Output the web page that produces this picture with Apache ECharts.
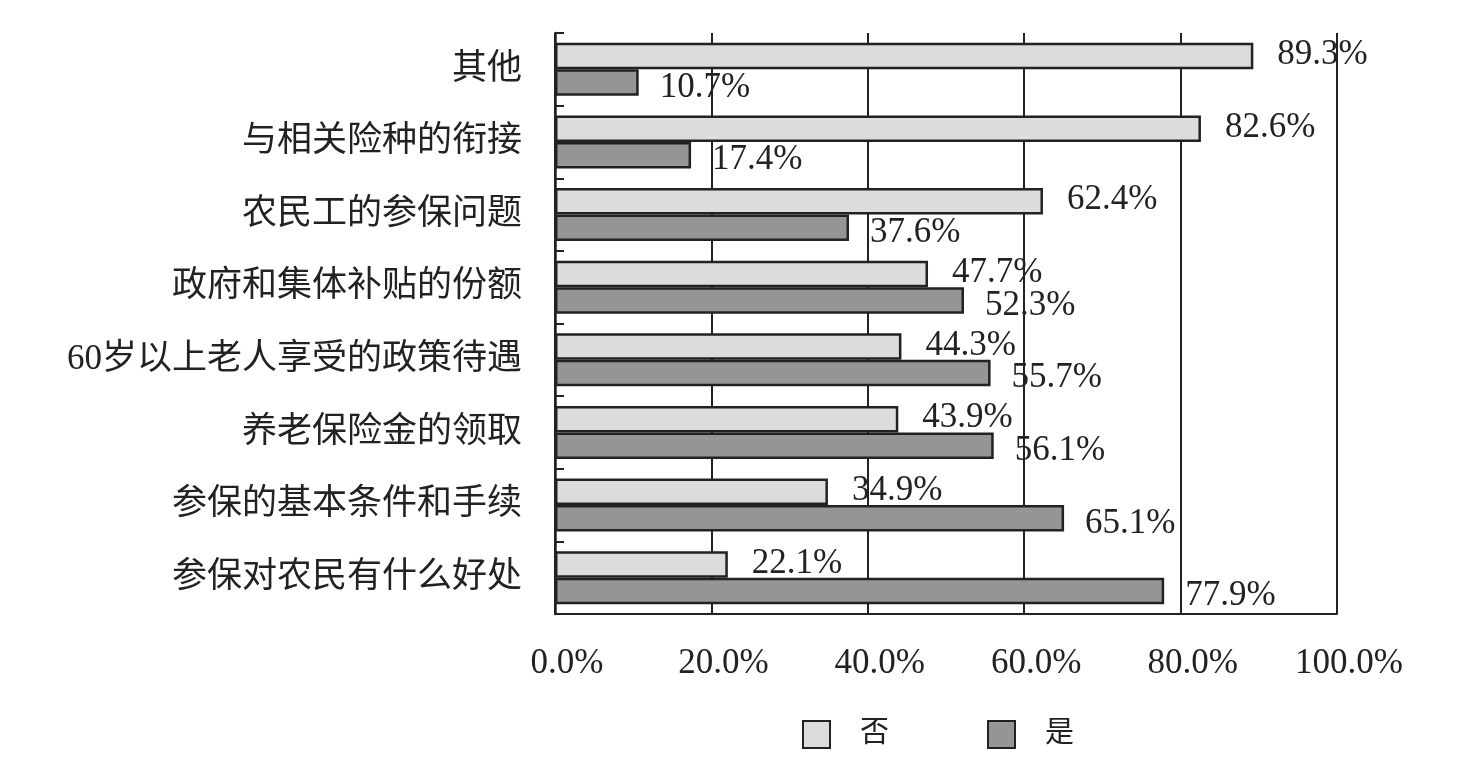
<!DOCTYPE html>
<html>
<head>
<meta charset="utf-8">
<script src="https://cdn.jsdelivr.net/npm/echarts@6/dist/echarts.min.js"></script>
<style>
html,body{margin:0;padding:0;background:#fff;}
#chart{width:1477px;height:771px;}
</style>
</head>
<body>
<div id="chart"></div>
<script>
// Categories, bottom to top
const categories = ['参保对农民有什么好处', '参保的基本条件和手续', '养老保险金的领取', '60岁以上老人享受的政策待遇', '政府和集体补贴的份额', '农民工的参保问题', '与相关险种的衔接', '其他'];
const seriesNames = ['否', '是'];
const noValues = [22.1, 34.9, 43.9, 44.3, 47.7, 62.4, 82.6, 89.3];
const yesValues = [77.9, 65.1, 56.1, 55.7, 52.3, 37.6, 17.4, 10.7];
const xTicks = [0, 20, 40, 60, 80, 100];

const FONT = '"Liberation Serif", "Noto Sans CJK SC", serif';
const chart = echarts.init(document.getElementById('chart'));
chart.setOption({
  backgroundColor: '#fff',
  animation: false,
  textStyle: { fontFamily: FONT },
  grid: { left: 555, right: 140, top: 33, bottom: 157, containLabel: false },
  legend: {
    data: seriesNames,
    left: 797, top: 715,
    icon: 'rect',
    itemWidth: 27, itemHeight: 27,
    itemGap: 98,
    textStyle: { fontFamily: FONT, fontSize: 29, color: '#222', padding: [0, 0, 0, 25] }
  },
  xAxis: {
    type: 'value',
    min: xTicks[0], max: xTicks[xTicks.length - 1], interval: 20,
    axisLine: { show: true, lineStyle: { color: '#222', width: 2 } },
    axisTick: { show: false },
    splitLine: { show: true, lineStyle: { color: '#222', width: 2 } },
    axisLabel: {
      margin: 32, fontSize: 35, color: '#222', fontFamily: FONT,
      padding: [0, 0, 0, 24],
      formatter: v => v.toFixed(1) + '%'
    }
  },
  yAxis: {
    type: 'category',
    data: categories,
    axisLine: { show: true, lineStyle: { color: '#222', width: 2.5 } },
    axisTick: { show: true, inside: true, length: 9, lineStyle: { color: '#222', width: 2 } },
    axisLabel: { margin: 33, fontSize: 35, color: '#222', fontFamily: FONT },
    splitLine: { show: false }
  },
  series: [
    {
      name: seriesNames[0], type: 'bar', data: noValues,
      barCategoryGap: '27%', barGap: '0%',
      itemStyle: { color: '#dcdcdc', borderColor: '#222', borderWidth: 2.5 },
      label: {
        show: true, position: 'right', distance: 24, offset: [0, -1],
        fontSize: 35, color: '#222', fontFamily: FONT,
        formatter: p => p.value.toFixed(1) + '%'
      }
    },
    {
      name: seriesNames[1], type: 'bar', data: yesValues,
      barCategoryGap: '27%', barGap: '0%',
      itemStyle: { color: '#959595', borderColor: '#222', borderWidth: 2.5 },
      label: {
        show: true, position: 'right', distance: 21, offset: [0, 5],
        fontSize: 35, color: '#222', fontFamily: FONT,
        formatter: p => p.value.toFixed(1) + '%'
      }
    }
  ]
});
</script>
</body>
</html>
